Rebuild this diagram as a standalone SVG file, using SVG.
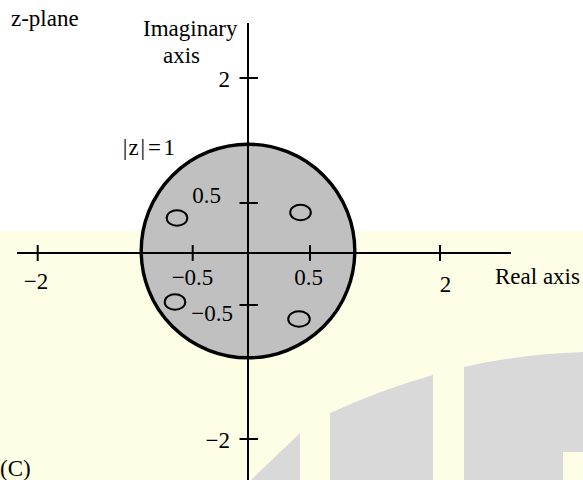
<svg xmlns="http://www.w3.org/2000/svg" width="583" height="480" viewBox="0 0 583 480">
  <style>
    .t { font-family: "Liberation Serif", "Times New Roman", serif; font-size: 23px; fill: #000; }
    .ax { stroke: #000; stroke-width: 2; fill: none; }
    .zero { stroke: #000; stroke-width: 2; fill: none; }
    .wm { fill: #D9D9D9; }
  </style>
  <g id="background">
    <rect x="0" y="0" width="583" height="480" fill="#FFFFFF"/>
    <rect x="0" y="231" width="583" height="249" fill="#FEFEE6"/>
    <path class="wm" d="M251,480 L300,433 L300,480 Z"/>
    <path class="wm" d="M330,480 L330,413 Q380,390 433,375 L433,480 Z"/>
    <path class="wm" d="M464,480 L464,367 Q520,354 583,352 L583,452 L563,452 L563,480 Z"/>
  </g>
  <g id="unit-circle">
    <circle cx="248" cy="251" r="106.8" fill="#C0C0C0" stroke="#000" stroke-width="3.4"/>
  </g>
  <g id="axes">
    <line class="ax" x1="248" y1="23" x2="248" y2="480"/>
    <line class="ax" x1="17" y1="253" x2="511" y2="253"/>
    <line class="ax" x1="37.7" y1="245" x2="37.7" y2="261"/>
    <line class="ax" x1="192.7" y1="245" x2="192.7" y2="261"/>
    <line class="ax" x1="310" y1="245" x2="310" y2="261"/>
    <line class="ax" x1="440" y1="245" x2="440" y2="261"/>
    <line class="ax" x1="239.5" y1="78" x2="258" y2="78"/>
    <line class="ax" x1="239.5" y1="203" x2="258" y2="203"/>
    <line class="ax" x1="239.5" y1="305" x2="258" y2="305"/>
    <line class="ax" x1="239.5" y1="439" x2="258" y2="439"/>
  </g>
  <g id="zeros">
    <ellipse id="zero-ul" class="zero" cx="177" cy="218" rx="10.3" ry="7.7"/>
    <ellipse id="zero-ur" class="zero" cx="300.5" cy="212.5" rx="10.3" ry="7.7"/>
    <ellipse id="zero-ll" class="zero" cx="175" cy="302" rx="10.3" ry="7.7"/>
    <ellipse id="zero-lr" class="zero" cx="299" cy="319" rx="10.8" ry="7.8"/>
  </g>
  <g id="labels">
    <text class="t" x="11" y="26">z-plane</text>
    <text class="t" x="143" y="36">Imaginary</text>
    <text class="t" x="163" y="63">axis</text>
    <text class="t" x="230" y="87" text-anchor="end">2</text>
    <text class="t" x="122.7 128.5 140.4 148 163.5" y="155">|z|=1</text>
    <text class="t" x="221" y="203" text-anchor="end">0.5</text>
    <text class="t" x="36" y="289" text-anchor="middle">−2</text>
    <text class="t" x="192.5" y="285" text-anchor="middle">−0.5</text>
    <text class="t" x="308.5" y="285" text-anchor="middle">0.5</text>
    <text class="t" x="445.5" y="292" text-anchor="middle">2</text>
    <text class="t" x="495" y="284">Real axis</text>
    <text class="t" x="233" y="321" text-anchor="end">−0.5</text>
    <text class="t" x="230" y="448" text-anchor="end">−2</text>
    <text class="t" x="0" y="476">(C)</text>
  </g>
</svg>
